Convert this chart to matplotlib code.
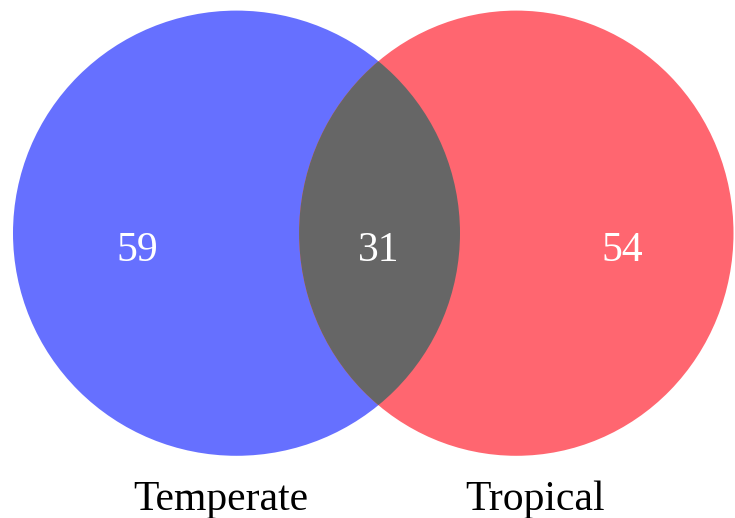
import numpy as np
import matplotlib
matplotlib.use("Agg")
import matplotlib.pyplot as plt
from matplotlib.patches import Ellipse

# Data
set_labels = ["Temperate", "Tropical"]
subset_counts = [59, 31, 54]          # only Temperate, both, only Tropical
set_sizes = [subset_counts[0] + subset_counts[1], subset_counts[2] + subset_counts[1]]

colors = ["#6670ff", "#ff6670"]
overlap_color = "#666666"

W, H = 735, 518
fig = plt.figure(figsize=(W / 100, H / 100), dpi=100)
ax = fig.add_axes([0, 0, 1, 1])
ax.set_xlim(0, W)
ax.set_ylim(H, 0)
ax.axis("off")

# geometry (pixel space)
r_left = 223.5
r_right = r_left * np.sqrt(set_sizes[1] / set_sizes[0])
ry = 222.6
cy = 233.2
cx_left = 13 + r_left
cx_right = 733.5 - r_right

e1 = Ellipse((cx_left, cy), 2 * r_left, 2 * ry, facecolor=colors[0], edgecolor="none")
e2 = Ellipse((cx_right, cy), 2 * r_right, 2 * ry, facecolor=colors[1], edgecolor="none")
ax.add_patch(e1)
ax.add_patch(e2)
# overlap: right ellipse clipped to left ellipse
e3 = Ellipse((cx_right, cy), 2 * r_right, 2 * ry, facecolor=overlap_color, edgecolor="none")
ax.add_patch(e3)
clip = Ellipse((cx_left, cy), 2 * r_left, 2 * ry, transform=ax.transData)
e3.set_clip_path(clip)

font = ["Liberation Serif", "DejaVu Serif"]
num_x = [137, 379, 622]
for x, v in zip(num_x, subset_counts):
    ax.text(x, 261, str(v), ha="center", va="baseline", color="white",
            fontsize=30, family=font)

label_x = [221, 535]
for x, lab in zip(label_x, set_labels):
    ax.text(x, 510, lab, ha="center", va="baseline", color="black",
            fontsize=30, family=font)

fig.savefig("out.png", dpi=100)
